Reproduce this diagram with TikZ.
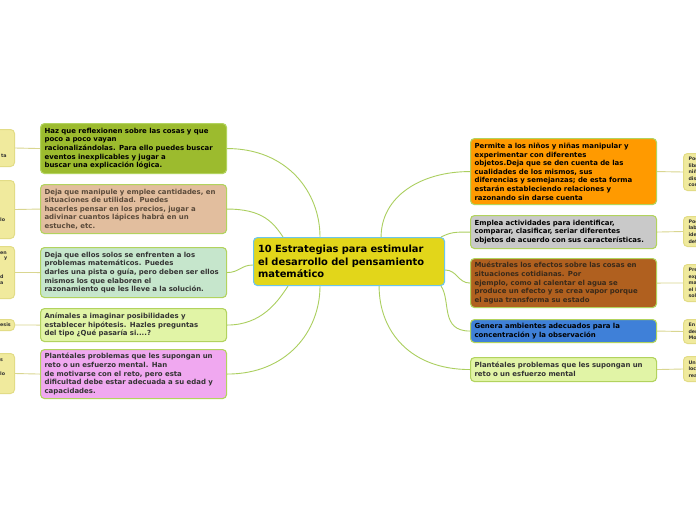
\documentclass[tikz,border=0pt]{standalone}
\usepackage{fontspec}
\setmainfont{DejaVu Sans}
\usetikzlibrary{backgrounds}
\pgfdeclarelayer{paper}
\pgfsetlayers{paper,background,main}
\definecolor{cfill}{HTML}{E2D61A}
\definecolor{cbord}{HTML}{6CC5EC}
\definecolor{bord}{HTML}{B2D35E}
\definecolor{edge}{HTML}{ABCF5F}
\definecolor{leaff}{HTML}{F0EA9D}
\definecolor{leafb}{HTML}{E2DC86}
\definecolor{leafe}{HTML}{D9D690}
\definecolor{fa}{HTML}{9CBB2E}
\definecolor{fb}{HTML}{E2BE9E}
\definecolor{fc}{HTML}{C6E6CC}
\definecolor{fd}{HTML}{E1F4A6}
\definecolor{fe}{HTML}{F0A8F0}
\definecolor{ga}{HTML}{FF9A00}
\definecolor{gb}{HTML}{C9C9C9}
\definecolor{gc}{HTML}{B0601F}
\definecolor{gd}{HTML}{3F80D8}
\definecolor{tdark}{HTML}{333333}
\definecolor{ttan}{HTML}{5A4A3A}
\definecolor{tbrown}{HTML}{3A2A1A}
\tikzset{
  mainbox/.style={draw=bord, line width=1.1pt, rounded corners=4pt, anchor=north west,
    minimum width=186pt, text width=178pt, align=left, inner xsep=4pt, inner ysep=2pt,
    font=\fontsize{6.95}{8.6}\selectfont\bfseries},
  centerbox/.style={draw=cbord, fill=cfill, line width=1.1pt, rounded corners=4pt, anchor=north west,
    minimum width=191pt, minimum height=48pt, text width=182pt, align=left, inner xsep=4.5pt,
    font=\fontsize{9.9}{12.4}\selectfont\bfseries},
  leafbox/.style={draw=leafb, fill=leaff, line width=1pt, rounded corners=4pt, anchor=north west,
    minimum width=80pt, text width=70pt, align=left, inner xsep=4pt, inner ysep=1pt,
    font=\fontsize{4.8}{6.6}\selectfont\bfseries, text=tdark},
  frag/.style={anchor=west, inner sep=0pt, font=\fontsize{4.8}{6.6}\selectfont\bfseries, text=tdark},
  conn/.style={draw=edge, line width=0.9pt},
  leafconn/.style={draw=leafe, line width=0.9pt}
}
\begin{document}
\begin{tikzpicture}[x=1pt,y=-1pt]
\useasboundingbox (0,0) rectangle (696,520);
\begin{pgfonlayer}{paper}
\fill[white] (0,0) rectangle (696,520);
\end{pgfonlayer}
\begin{scope}
\clip (0,0) rectangle (696,520);
% center
\node[centerbox] (c) at (253,237) {10 Estrategias para estimular\\el desarrollo del pensamiento\\matemático};
% left branch nodes
\node[mainbox, fill=fa, minimum height=50pt, text=black] (l1) at (40,123) {Haz que reflexionen sobre las cosas y que\\poco a poco vayan\\racionalizándolas. Para ello puedes buscar\\eventos inexplicables y jugar a\\buscar una explicación lógica.};
\node[mainbox, fill=fb, minimum height=49pt, text=ttan] (l2) at (40,184) {Deja que manipule y emplee cantidades, en\\situaciones de utilidad. Puedes\\hacerles pensar en los precios, jugar a\\adivinar cuantos lápices habrá en un\\estuche, etc.};
\node[mainbox, fill=fc, minimum height=50pt, text=tdark] (l3) at (40,247) {Deja que ellos solos se enfrenten a los\\problemas matemáticos. Puedes\\darles una pista o guía, pero deben ser ellos\\mismos los que elaboren el\\razonamiento que les lleve a la solución.};
\node[mainbox, fill=fd, minimum height=33pt, text=tdark] (l4) at (40,308) {Anímales a imaginar posibilidades y\\establecer hipótesis. Hazles preguntas\\del tipo ¿Qué pasaría si....?};
\node[mainbox, fill=fe, minimum height=49pt, text=tdark] (l5) at (40,349) {Plantéales problemas que les supongan un\\reto o un esfuerzo mental. Han\\de motivarse con el reto, pero esta\\dificultad debe estar adecuada a su edad y\\capacidades.};
% right branch nodes
\node[mainbox, fill=ga, minimum height=66pt, text=black] (r1) at (470,138) {Permite a los niños y niñas manipular y\\experimentar con diferentes\\objetos.Deja que se den cuenta de las\\cualidades de los mismos, sus\\diferencias y semejanzas; de esta forma\\estarán estableciendo relaciones y\\razonando sin darse cuenta};
\node[mainbox, fill=gb, minimum height=33pt, text=black] (r2) at (470,215) {Emplea actividades para identificar,\\comparar, clasificar, seriar diferentes\\objetos de acuerdo con sus características.};
\node[mainbox, fill=gc, minimum height=49pt, text=tbrown] (r3) at (470,258) {Muéstrales los efectos sobre las cosas en\\situaciones cotidianas. Por\\ejemplo, como al calentar el agua se\\produce un efecto y se crea vapor porque\\el agua transforma su estado};
\node[mainbox, fill=gd, minimum height=23pt, text=black] (r4) at (470,319) {Genera ambientes adecuados para la\\concentración y la observación};
\node[mainbox, fill=fd, minimum height=24pt, text=tdark] (r5) at (470,357) {Plantéales problemas que les supongan un\\reto o un esfuerzo mental};
% left leaves
\node[leafbox, minimum height=37pt] (ll1) at (-66,129) {};
\node[leafbox, minimum height=58pt] (ll2) at (-66,180) {};
\node[leafbox, minimum height=52pt] (ll3) at (-66,246) {};
\node[leafbox, minimum height=11pt] (ll4) at (-66,319) {};
\node[leafbox, minimum height=40pt] (ll5) at (-66,353) {};
\node[frag] (f1) at (1,156) {ta};
\node[frag] (f2) at (0,220) {lo};
\node[frag] (f3) at (0,253) {en};
\node[frag] (f4) at (4,259) {y};
\node[frag] (f5) at (0,277) {d};
\node[frag] (f6) at (0,283) {a};
\node[frag] (f7) at (0,325) {esis};
\node[frag] (f8) at (0,360) {s};
\node[frag] (f9) at (0,374) {lo};
% right leaves
\node[leafbox, minimum height=37pt] (rr1) at (683,153) {Poc\\libr\\niñ\\dis\\con};
\node[leafbox, minimum height=30pt] (rr2) at (683,216) {Poc\\lab\\ide\\det};
\node[leafbox, minimum height=37pt] (rr3) at (683,264) {Pre\\exp\\ma\\el H\\sol};
\node[leafbox, minimum height=24pt] (rr4) at (683,319) {En\\der\\Mo};
\node[leafbox, minimum height=25pt] (rr5) at (683,356) {Una\\loc\\rea};
\end{scope}
\begin{scope}[on background layer]
\clip (0,0) rectangle (696,520);
\draw[conn] (l1.east) .. controls +(60,0) and +(0,-45) .. ([xshift=67pt]c.north west);
\draw[conn] (l2.east) .. controls +(35,0) and +(-10,-15) .. ([xshift=30pt]c.north west);
\draw[conn] (l3.east) .. controls +(12,0) and +(-12,0) .. ([yshift=-28pt]c.north west);
\draw[conn] (l4.east) .. controls +(35,0) and +(-10,15) .. ([xshift=35pt]c.south west);
\draw[conn] (l5.east) .. controls +(60,0) and +(0,45) .. ([xshift=67pt]c.south west);
\draw[conn] (r1.west) .. controls +(-50,0) and +(0,-40) .. ([xshift=-64pt]c.north east);
\draw[conn] (r2.west) .. controls +(-15,0) and +(10,-5) .. ([xshift=-4pt]c.north east);
\draw[conn] (r3.west) .. controls +(-12,0) and +(12,0) .. ([yshift=-33pt]c.north east);
\draw[conn] (r4.west) .. controls +(-30,0) and +(10,15) .. ([xshift=-4pt]c.south east);
\draw[conn] (r5.west) .. controls +(-60,0) and +(0,45) .. ([xshift=-66pt]c.south east);
\draw[leafconn] (ll1.east) -- (l1.west);
\draw[leafconn] (ll2.east) -- (l2.west);
\draw[leafconn] (ll3.east) -- (l3.west);
\draw[leafconn] (ll4.east) -- (l4.west);
\draw[leafconn] (ll5.east) -- (l5.west);
\draw[leafconn] (r1.east) -- (rr1.west);
\draw[leafconn] (r2.east) -- (rr2.west);
\draw[leafconn] (r3.east) -- (rr3.west);
\draw[leafconn] (r4.east) -- (rr4.west);
\draw[leafconn] (r5.east) -- (rr5.west);
\end{scope}
\end{tikzpicture}
\end{document}
